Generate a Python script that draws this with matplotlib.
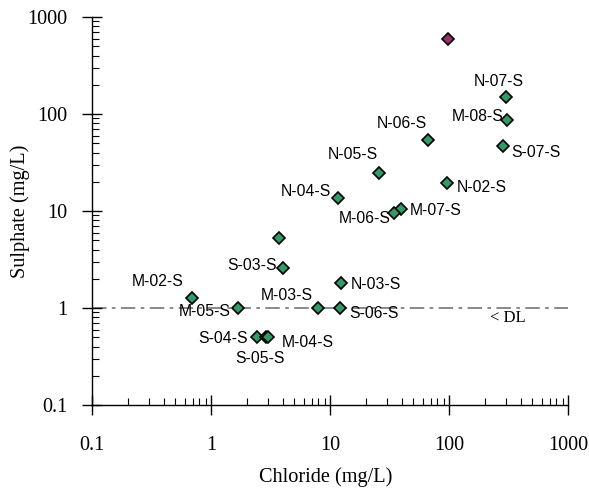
import matplotlib
matplotlib.use("Agg")
import matplotlib.pyplot as plt
from matplotlib.ticker import LogLocator, NullFormatter, FixedLocator

# ---- data ----
labels = ["N-07-S", "M-08-S", "S-07-S", "N-06-S", "N-05-S", "N-02-S", "N-04-S",
          "M-07-S", "M-06-S", "", "S-03-S", "M-02-S", "M-05-S", "S-04-S",
          "S-05-S", "M-04-S", "M-03-S", "N-03-S", "S-06-S"]
chloride = [303, 305, 284, 67, 26, 96, 11.7, 39.5, 34.3, 3.7, 4.05, 0.69, 1.68,
            2.45, 2.9, 3.0, 8.0, 12.3, 12.1]
sulphate = [149, 86, 47, 54, 24.5, 19.5, 13.5, 10.6, 9.6, 5.3, 2.6, 1.28, 1.0,
            0.5, 0.5, 0.5, 1.0, 1.8, 1.0]
outlier_cl = [99]
outlier_so4 = [600]
detection_limit = 1.0
xticks = [0.1, 1, 10, 100, 1000]
xticklabels = ["0.1", "1", "10", "100", "1000"]
yticks = [0.1, 1, 10, 100, 1000]
yticklabels = ["0.1", "1", "10", "100", "1000"]

# label offsets (pixels, centre of text relative to marker)
offsets = [(-8, 16), (-29, 4), (33, -7), (-26, 16), (-27, 19), (35, -5), (-32, 7),
           (35, -2), (-29, -6), (0, 0), (-31, 2), (-34, 16), (-33, -4), (-34, -1),
           (-6, -21), (40, -5), (-32, 12), (35, -1), (34, -5)]

W, H = 589, 491
fig = plt.figure(figsize=(W / 100, H / 100), dpi=100)
ax = fig.add_axes([92 / W, (H - 405) / H, (568 - 92) / W, (405 - 17) / H])
ax.set_xscale("log")
ax.set_yscale("log")
ax.set_xlim(0.1, 1000)
ax.set_ylim(0.1, 1000)

serif = ["Liberation Serif", "DejaVu Serif"]
sans = ["Liberation Sans", "DejaVu Sans"]

ax.axhline(detection_limit, color="#808080", lw=1.3, dashes=(8, 3, 2, 3), zorder=1)

ax.plot(chloride, sulphate, linestyle="none", marker="D", markersize=6.2,
        markerfacecolor="#339966", markeredgecolor="black", markeredgewidth=1.2, zorder=3)
ax.plot(outlier_cl, outlier_so4, linestyle="none", marker="D", markersize=6.2,
        markerfacecolor="#993366", markeredgecolor="black", markeredgewidth=1.2, zorder=3)

for lab, x, y, (dx, dy) in zip(labels, chloride, sulphate, offsets):
    if lab:
        ax.annotate(lab, (x, y), xytext=(dx, dy), textcoords="offset pixels",
                    ha="center", va="center", fontsize=11.3, family=sans)

ax.text(311, 0.78, "< DL", ha="center", va="center", fontsize=12, family=serif)

for s in ["top", "right"]:
    ax.spines[s].set_visible(False)
for s in ["left", "bottom"]:
    ax.spines[s].set_linewidth(1.0)

ax.xaxis.set_major_locator(FixedLocator(xticks))
ax.yaxis.set_major_locator(FixedLocator(yticks))
ax.set_xticklabels(xticklabels, family=serif, fontsize=14.6)
ax.set_yticklabels(yticklabels, family=serif, fontsize=14.6)
ax.xaxis.set_minor_locator(LogLocator(base=10, subs=range(2, 10), numticks=20))
ax.yaxis.set_minor_locator(LogLocator(base=10, subs=range(2, 10), numticks=20))
ax.xaxis.set_minor_formatter(NullFormatter())
ax.yaxis.set_minor_formatter(NullFormatter())
ax.tick_params(which="major", direction="inout", length=15, width=1.0)
ax.tick_params(axis="x", which="major", pad=15)
ax.tick_params(axis="y", which="major", pad=10)
ax.tick_params(which="minor", direction="in", length=5, width=0.8)

ax.set_xlabel("Chloride (mg/L)", family=serif, fontsize=14.6, va="center")
ax.set_ylabel("Sulphate (mg/L)", family=serif, fontsize=14.6, va="center")
ax.xaxis.set_label_coords(326 / W, (H - 477) / H, transform=fig.transFigure)
ax.yaxis.set_label_coords(20 / W, (H - 211) / H, transform=fig.transFigure)

fig.savefig("out.png", dpi=100)
